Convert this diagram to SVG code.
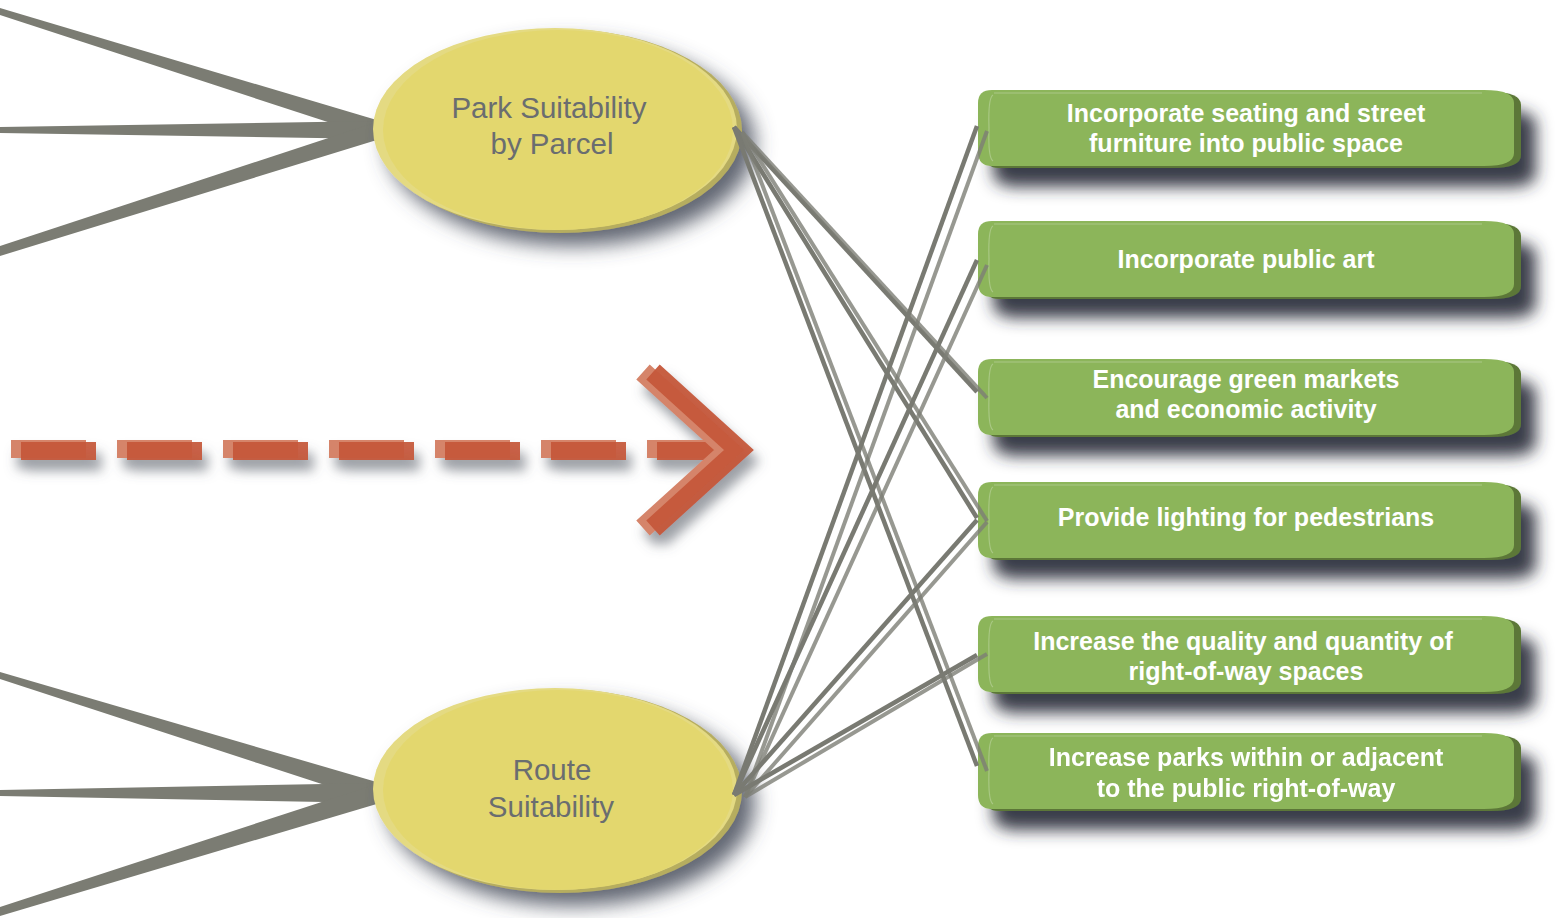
<svg xmlns="http://www.w3.org/2000/svg" width="1565" height="918" viewBox="0 0 1565 918">
<defs>
<style>
.wedge{fill:#7b7c73}
.c{stroke:#797a72;stroke-width:4.5;fill:none}
.c2{stroke:#7d7e76;stroke-width:4;fill:none;opacity:.8}
.et{font-family:"Liberation Sans",Arial,sans-serif;font-size:29.5px;fill:#6a6d70;text-anchor:middle}
.bt{font-family:"Liberation Sans",Arial,sans-serif;font-size:25px;font-weight:bold;fill:#ffffff;text-anchor:middle}
.face{fill:#8cb55a}
.back{fill:#5b7737}
.hl{fill:none;stroke:#a9c884;stroke-width:1.2}
.dl{fill:#d5846a}
.dd{fill:#c5573a;opacity:.93}
.ebk{fill:#b6ad5f}
.erim{fill:#e4da82}
.eface{fill:#e3d76e}
</style>
<filter id="shBox" x="-10%" y="-40%" width="130%" height="220%">
<feGaussianBlur in="SourceAlpha" stdDeviation="8"/>
<feOffset dx="15" dy="19" result="b"/>
<feFlood flood-color="#2a2d3a" flood-opacity="0.92"/>
<feComposite in2="b" operator="in"/>
<feMerge><feMergeNode/><feMergeNode in="SourceGraphic"/></feMerge>
</filter>
<filter id="shEll" x="-20%" y="-20%" width="150%" height="150%">
<feGaussianBlur in="SourceAlpha" stdDeviation="10"/>
<feOffset dx="13" dy="13" result="b"/>
<feFlood flood-color="#464c5a" flood-opacity="0.85"/>
<feComposite in2="b" operator="in"/>
<feMerge><feMergeNode/><feMergeNode in="SourceGraphic"/></feMerge>
</filter>
<filter id="shArr" x="-10%" y="-30%" width="130%" height="180%">
<feGaussianBlur in="SourceAlpha" stdDeviation="6"/>
<feOffset dx="6" dy="11" result="b"/>
<feFlood flood-color="#5a606a" flood-opacity="0.6"/>
<feComposite in2="b" operator="in"/>
<feMerge><feMergeNode/><feMergeNode in="SourceGraphic"/></feMerge>
</filter>
<path id="pillBack" class="back" d="M14,0 H506 Q536,0 536,13 V63 Q536,76 506,76 H14 Q0,76 0,62 V13 Q0,0 14,0 Z"/>
<path id="pill" class="face" d="M14,0 H506 Q536,0 536,13 V63 Q536,76 506,76 H14 Q0,76 0,62 V13 Q0,0 14,0 Z"/>
<path id="pillHl" class="hl" d="M15,5 Q10,8 11,38 Q10,68 15,71 M16,3 H504"/>
</defs>
<rect width="1565" height="918" fill="#ffffff"/>

<g id="wedges-top">
<polygon class="wedge" points="0,8 0,15 380,139 380,121"/>
<polygon class="wedge" points="0,127 0,133 380,139 380,121"/>
<polygon class="wedge" points="0,246 0,256 380,139 380,121"/>
</g>
<g id="wedges-bottom">
<polygon class="wedge" points="0,672 0,679 380,803 380,783"/>
<polygon class="wedge" points="0,790 0,796 380,803 380,783"/>
<polygon class="wedge" points="0,907 0,916 380,803 380,783"/>
</g>

<g id="arrow" filter="url(#shArr)">
<rect class="dl" x="11" y="440" width="75" height="18"/>
<rect class="dd" x="21" y="442" width="75" height="18"/>
<rect class="dl" x="117" y="440" width="75" height="18"/>
<rect class="dd" x="127" y="442" width="75" height="18"/>
<rect class="dl" x="223" y="440" width="75" height="18"/>
<rect class="dd" x="233" y="442" width="75" height="18"/>
<rect class="dl" x="329" y="440" width="75" height="18"/>
<rect class="dd" x="339" y="442" width="75" height="18"/>
<rect class="dl" x="435" y="440" width="75" height="18"/>
<rect class="dd" x="445" y="442" width="75" height="18"/>
<rect class="dl" x="541" y="440" width="75" height="18"/>
<rect class="dd" x="551" y="442" width="75" height="18"/>
<rect class="dl" x="647" y="440" width="75" height="18"/>
<rect class="dd" x="657" y="442" width="70" height="18"/>
<polyline points="643,372 729,450 643,528" fill="none" stroke="#d5846a" stroke-width="20" stroke-linejoin="miter" stroke-miterlimit="6"/>
<polyline points="653,372 739,450 653,528" fill="none" stroke="#c5573a" stroke-width="20" stroke-linejoin="miter" stroke-miterlimit="6" opacity=".95"/>
</g>

<g id="node-park">
<g filter="url(#shEll)">
<ellipse class="ebk" cx="560" cy="131" rx="182" ry="102"/>
<ellipse class="erim" cx="555" cy="129" rx="182" ry="101"/>
<ellipse class="eface" cx="558" cy="130" rx="175" ry="100"/>
</g>
<text class="et" x="549" y="118">Park Suitability</text>
<text class="et" x="552" y="154">by Parcel</text>
</g>

<g id="node-route">
<g filter="url(#shEll)">
<ellipse class="ebk" cx="560" cy="791" rx="182" ry="102"/>
<ellipse class="erim" cx="555" cy="789" rx="182" ry="101"/>
<ellipse class="eface" cx="558" cy="790" rx="175" ry="100"/>
</g>
<text class="et" x="552" y="780">Route</text>
<text class="et" x="551" y="817">Suitability</text>
</g>

<g id="box1">
<g filter="url(#shBox)" transform="translate(978,90)"><use href="#pillBack" x="7" y="2"/><use href="#pill"/><use href="#pillHl"/></g>
<text class="bt" x="1246" y="122">Incorporate seating and street</text>
<text class="bt" x="1246" y="152">furniture into public space</text>
</g>
<g id="box2">
<g filter="url(#shBox)" transform="translate(978,221)"><use href="#pillBack" x="7" y="2"/><use href="#pill"/><use href="#pillHl"/></g>
<text class="bt" x="1246" y="268">Incorporate public art</text>
</g>
<g id="box3">
<g filter="url(#shBox)" transform="translate(978,359)"><use href="#pillBack" x="7" y="2"/><use href="#pill"/><use href="#pillHl"/></g>
<text class="bt" x="1246" y="388">Encourage green markets</text>
<text class="bt" x="1246" y="418">and economic activity</text>
</g>
<g id="box4">
<g filter="url(#shBox)" transform="translate(978,482)"><use href="#pillBack" x="7" y="2"/><use href="#pill"/><use href="#pillHl"/></g>
<text class="bt" x="1246" y="526">Provide lighting for pedestrians</text>
</g>
<g id="box5">
<g filter="url(#shBox)" transform="translate(978,616)"><use href="#pillBack" x="7" y="2"/><use href="#pill"/><use href="#pillHl"/></g>
<text class="bt" x="1243" y="650">Increase the quality and quantity of</text>
<text class="bt" x="1246" y="680">right-of-way spaces</text>
</g>
<g id="box6">
<g filter="url(#shBox)" transform="translate(978,733)"><use href="#pillBack" x="7" y="2"/><use href="#pill"/><use href="#pillHl"/></g>
<text class="bt" x="1246" y="766">Increase parks within or adjacent</text>
<text class="bt" x="1246" y="797">to the public right-of-way</text>
</g>

<g id="connectors">
<line class="c" x1="734" y1="127" x2="977" y2="392"/>
<line class="c2" x1="742" y1="132" x2="987" y2="398"/>
<line class="c" x1="734" y1="127" x2="977" y2="518"/>
<line class="c2" x1="742" y1="132" x2="987" y2="521"/>
<line class="c" x1="734" y1="127" x2="977" y2="766"/>
<line class="c2" x1="742" y1="132" x2="987" y2="771"/>
<line class="c" x1="734" y1="795" x2="977" y2="126"/>
<line class="c2" x1="745" y1="797" x2="987" y2="131"/>
<line class="c" x1="734" y1="795" x2="977" y2="260"/>
<line class="c2" x1="745" y1="797" x2="987" y2="265"/>
<line class="c" x1="734" y1="795" x2="977" y2="520"/>
<line class="c2" x1="745" y1="797" x2="987" y2="522"/>
<line class="c" x1="734" y1="795" x2="977" y2="655"/>
<line class="c2" x1="745" y1="797" x2="987" y2="654"/>
</g>
</svg>
